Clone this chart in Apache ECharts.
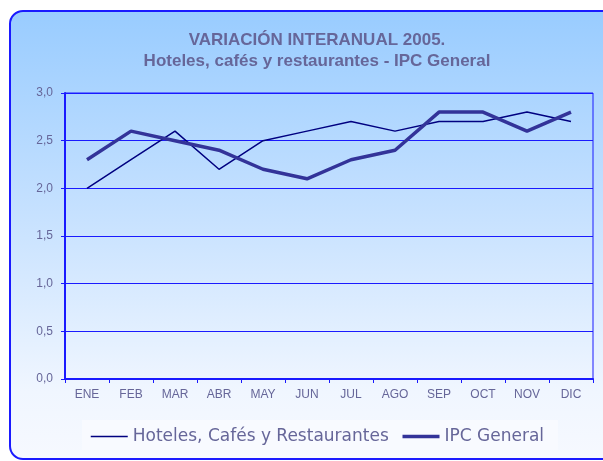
<!DOCTYPE html>
<html>
<head>
<meta charset="utf-8">
<script src="https://cdn.jsdelivr.net/npm/echarts@6/dist/echarts.min.js"></script>
<style>
  html, body { margin: 0; padding: 0; background: #ffffff; }
  #wrap { position: relative; width: 603px; height: 461px; overflow: hidden; }
  #frame {
    position: absolute; left: 9px; top: 10px; width: 620px; height: 446px;
    border: 2px solid #1a1aff; border-radius: 14px;
    background: linear-gradient(to bottom, #99ccff 0%, #c6e1ff 45%, #f0f6ff 85%, #f6f9ff 100%);
  }
  #legbox { position: absolute; left: 82px; top: 420px; width: 476px; height: 30px; background: #f8faff; }
  #chart { position: absolute; left: 0; top: 0; width: 603px; height: 461px; }
</style>
</head>
<body>
<div id="wrap">
  <div id="frame"></div>
  <div id="legbox"></div>
  <div id="chart"></div>
</div>
<script>
// datos
const meses = ["ENE", "FEB", "MAR", "ABR", "MAY", "JUN", "JUL", "AGO", "SEP", "OCT", "NOV", "DIC"];
const hoteles = [2.0, 2.3, 2.6, 2.2, 2.5, 2.6, 2.7, 2.6, 2.7, 2.7, 2.8, 2.7];
const ipc = [2.3, 2.6, 2.5, 2.4, 2.2, 2.1, 2.3, 2.4, 2.8, 2.8, 2.6, 2.8];
const nombres = ["Hoteles, Cafés y Restaurantes", "IPC General"];

let myChart = echarts.init(document.getElementById("chart"));

var option = {
  backgroundColor: "transparent",
  animation: false,
  title: {
    text: "VARIACIÓN INTERANUAL 2005.\nHoteles, cafés y restaurantes - IPC General",
    left: 312,
    top: 25,
    textAlign: "center",
    textStyle: {
      color: "#666699",
      fontFamily: "Liberation Sans",
      fontSize: 17,
      fontWeight: "bold",
      lineHeight: 21,
    },
  },
  legend: {
    left: 90,
    top: 428,
    padding: 0,
    itemWidth: 37,
    itemHeight: 16,
    itemGap: 12,
    itemStyle: { opacity: 0, borderWidth: 0 },
    data: [
      { name: nombres[0], lineStyle: { width: 1.5 } },
      { name: nombres[1], lineStyle: { width: 3.5 } },
    ],
    textStyle: {
      color: "#666699",
      fontFamily: "DejaVu Sans",
      fontSize: 17,
    },
  },
  grid: {
    left: 65,
    right: 10,
    top: 93,
    bottom: 82,
    show: true,
    borderColor: "#1a1aff",
    borderWidth: 1,
    backgroundColor: "transparent",
  },
  xAxis: {
    type: "category",
    data: meses,
    boundaryGap: true,
    axisLine: { lineStyle: { color: "#1a1aff", width: 2 } },
    axisTick: { show: true, length: 4, inside: false, lineStyle: { color: "#1a1aff" } },
    axisLabel: {
      color: "#666699",
      fontFamily: "Liberation Sans",
      fontSize: 12,
      margin: 10,
    },
  },
  yAxis: {
    type: "value",
    min: 0,
    max: 3,
    interval: 0.5,
    axisLine: { show: true, lineStyle: { color: "#1a1aff", width: 2 } },
    axisTick: { show: true, length: 4, lineStyle: { color: "#1a1aff" } },
    splitLine: { lineStyle: { color: "#1a1aff", width: 1 } },
    axisLabel: {
      color: "#666699",
      fontFamily: "Liberation Sans",
      fontSize: 12,
      margin: 12,
      formatter: (v) => v.toFixed(1).replace(".", ","),
    },
  },
  series: [
    {
      name: nombres[0],
      type: "line",
      data: hoteles,
      symbol: "none",
      lineStyle: { color: "#000080", width: 1.5 },
      itemStyle: { color: "#000080" },
    },
    {
      name: nombres[1],
      type: "line",
      data: ipc,
      symbol: "none",
      lineStyle: { color: "#333399", width: 3.5 },
      itemStyle: { color: "#333399" },
    },
  ],
};

myChart.setOption(option);
</script>
</body>
</html>
